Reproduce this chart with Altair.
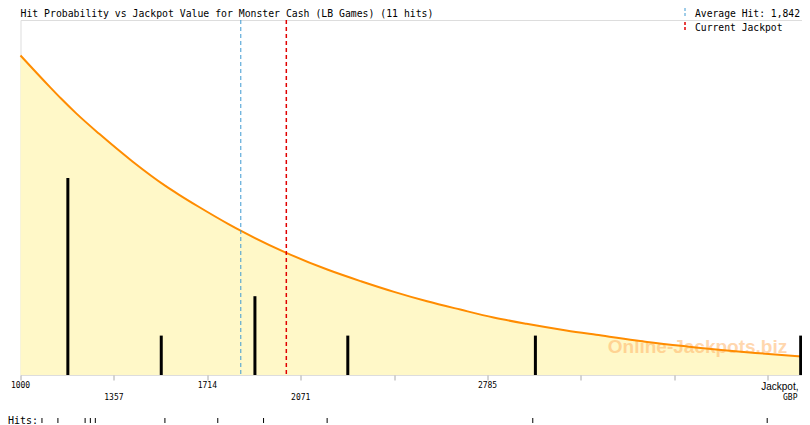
import altair as alt
import pandas as pd

# ---------------- data ----------------
TITLE = "Hit Probability vs Jackpot Value for Monster Cash (LB Games) (11 hits)"
AVG_LABEL = "Average Hit: 1,842"
CUR_LABEL = "Current Jackpot"
X_TITLE_1 = "Jackpot,"
X_TITLE_2 = "GBP"
HITS_LABEL = "Hits:"
WATERMARK = "Online-Jackpots.biz"

x_domain = [1000, 3987]
tick_values = [1000, 1357, 1714, 2071, 2428, 2785, 3142, 3499, 3856]
row1_labels = [1000, 1714, 2785]
row2_labels = [1357, 2071]

curve_jackpot = [1000, 1111, 1156, 1213, 1301, 1428, 1554, 1605, 1681, 1795,
                 1845, 2016, 2175, 2301, 2428, 2554, 2681, 2808, 2934, 3086,
                 3200, 3428, 3580, 3808, 3987]
curve_level = [8.11, 7.32, 7.01, 6.64, 6.12, 5.42, 4.80, 4.58, 4.27, 3.83,
               3.65, 3.10, 2.67, 2.38, 2.11, 1.87, 1.66, 1.46, 1.30, 1.13,
               1.02, 0.81, 0.70, 0.56, 0.47]

bar_jackpot = [1181, 1538, 1896, 2251, 2968, 3982]
bar_hits = [5, 1, 2, 1, 1, 1]

hit_values = [1082, 1143, 1247, 1267, 1286, 1552, 1754, 1929, 2172, 2958, 3854]
average_hit = 1842
current_jackpot = 2016

# ---------------- tables ----------------
curve_df = pd.DataFrame({"jackpot": curve_jackpot, "level": curve_level})
bar_df = pd.DataFrame({"jackpot": bar_jackpot, "hits": bar_hits})
hits_df = pd.DataFrame({"jackpot": hit_values})
avg_df = pd.DataFrame({"jackpot": [average_hit]})
cur_df = pd.DataFrame({"jackpot": [current_jackpot]})
row1_df = pd.DataFrame({"jackpot": row1_labels})
row2_df = pd.DataFrame({"jackpot": row2_labels})

W, H = 781.5, 355
MONO = "DejaVu Sans Mono"

xscale = alt.Scale(domain=x_domain, nice=False, zero=False, padding=0)
yscale = alt.Scale(domain=[0, 9.01], nice=False, zero=True)
xaxis = alt.Axis(values=tick_values, labels=False, ticks=True, tickSize=5,
                 tickColor="#AAAAAA", domain=False, grid=False, title=None)


def X():
    return alt.X("jackpot:Q", scale=xscale, axis=xaxis)


def txt(s):
    return pd.DataFrame({"t": [s]})


area = alt.Chart(curve_df).mark_area(color="#FFF8C8", interpolate="monotone").encode(
    x=X(), y=alt.Y("level:Q", scale=yscale, axis=None))

watermark = alt.Chart(txt(WATERMARK)).mark_text(
    font="Liberation Sans", fontWeight="bold", fontSize=19, color="#FFB060",
    opacity=0.5, align="center", baseline="middle").encode(
    x=alt.value(677), y=alt.value(326.7), text="t:N")

line = alt.Chart(curve_df).mark_line(color="#FF8C00", strokeWidth=2,
                                     interpolate="monotone").encode(
    x=X(), y=alt.Y("level:Q", scale=yscale, axis=None))

avg_rule = alt.Chart(avg_df).mark_rule(color="#3E9AD2", strokeWidth=1,
                                       strokeDash=[4, 3]).encode(x=X())
cur_rule = alt.Chart(cur_df).mark_rule(color="#E00000", strokeWidth=1.5,
                                       strokeDash=[4, 3]).encode(x=X())

bars = alt.Chart(bar_df).mark_bar(color="black", size=3).encode(
    x=X(), y=alt.Y("hits:Q", scale=yscale, axis=None))

lab1 = alt.Chart(row1_df).mark_text(font=MONO, fontSize=8, color="black",
                                    baseline="middle", align="center").encode(
    x=X(), y=alt.value(366.3), text="jackpot:Q")
lab2 = alt.Chart(row2_df).mark_text(font=MONO, fontSize=8, color="black",
                                    baseline="middle", align="center").encode(
    x=X(), y=alt.value(378.3), text="jackpot:Q")

xt1 = alt.Chart(txt(X_TITLE_1)).mark_text(font="Liberation Sans", fontSize=10,
                                          color="black", align="right",
                                          baseline="alphabetic").encode(
    x=alt.value(778), y=alt.value(370), text="t:N")
xt2 = alt.Chart(txt(X_TITLE_2)).mark_text(font=MONO, fontSize=8, color="black",
                                          align="right", baseline="middle").encode(
    x=alt.value(777), y=alt.value(378.3), text="t:N")

hit_ticks = alt.Chart(hits_df).mark_rule(color="black", strokeWidth=1).encode(
    x=X(), y=alt.value(398), y2=alt.value(403))
hits_lab = alt.Chart(txt(HITS_LABEL)).mark_text(font=MONO, fontSize=10, color="black",
                                                align="left", baseline="alphabetic").encode(
    x=alt.value(-12.5), y=alt.value(404), text="t:N")

title = alt.Chart(txt(TITLE)).mark_text(font=MONO, fontSize=9.8, color="black",
                                        align="left", baseline="alphabetic").encode(
    x=alt.value(0), y=alt.value(-3.5), text="t:N")

leg_avg_tick = alt.Chart(avg_df).mark_rule(color="#3E9AD2", strokeWidth=1,
                                           strokeDash=[3, 2]).encode(
    x=alt.value(664.5), y=alt.value(-12), y2=alt.value(-4))
leg_avg = alt.Chart(txt(AVG_LABEL)).mark_text(font=MONO, fontSize=9.7, color="black",
                                              align="left", baseline="alphabetic").encode(
    x=alt.value(674.5), y=alt.value(-3.5), text="t:N")
leg_cur_tick = alt.Chart(cur_df).mark_rule(color="#E00000", strokeWidth=1.5,
                                           strokeDash=[3, 2]).encode(
    x=alt.value(664.5), y=alt.value(2), y2=alt.value(12))
leg_cur = alt.Chart(txt(CUR_LABEL)).mark_text(font=MONO, fontSize=9.7, color="black",
                                              align="left", baseline="alphabetic").encode(
    x=alt.value(674.5), y=alt.value(10.5), text="t:N")

chart = alt.layer(
    area, watermark, line, avg_rule, cur_rule, bars, lab1, lab2, xt1, xt2,
    hit_ticks, hits_lab, title, leg_avg_tick, leg_avg, leg_cur_tick, leg_cur
).properties(
    width=W, height=H,
    autosize=alt.AutoSizeParams(type="none"),
    padding={"left": 12.5, "top": 12, "right": 0, "bottom": 50},
).configure_view(
    stroke="#AAAAAA", strokeWidth=1
).configure(background="white")

chart.save("out.html", embed_options={"renderer": "svg", "actions": False})
